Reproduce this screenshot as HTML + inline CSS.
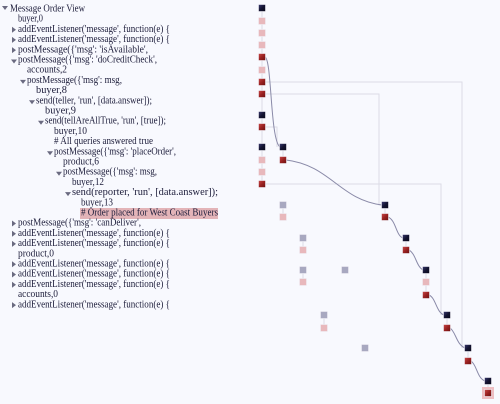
<!DOCTYPE html>
<html><head><meta charset="utf-8"><style>
html,body{margin:0;padding:0;background:#f8f9fe;}
svg{display:block}
text{font-family:"Liberation Serif",serif;font-size:11px;fill:#1c1c3a;}
</style></head><body>
<svg width="500" height="404" viewBox="0 0 500 404" xmlns="http://www.w3.org/2000/svg">
<defs>
<linearGradient id="gd" x1="0" y1="0" x2="1" y2="1"><stop offset="0" stop-color="#3a3a70"/><stop offset="0.5" stop-color="#141432"/><stop offset="1" stop-color="#080818"/></linearGradient>
<linearGradient id="gr" x1="0" y1="0" x2="1" y2="1"><stop offset="0" stop-color="#c84848"/><stop offset="0.5" stop-color="#9a2222"/><stop offset="1" stop-color="#6a1010"/></linearGradient>
</defs>
<rect x="80" y="208" width="138" height="11" fill="#e3b4b8"/>
<g>
<text x="10" y="11.5" textLength="75" lengthAdjust="spacingAndGlyphs">Message Order View</text>
<text x="18" y="21.7" textLength="25" lengthAdjust="spacingAndGlyphs">buyer,0</text>
<text x="18" y="31.9" textLength="152" lengthAdjust="spacingAndGlyphs">addEventListener('message', function(e) {</text>
<text x="18" y="42.1" textLength="152" lengthAdjust="spacingAndGlyphs">addEventListener('message', function(e) {</text>
<text x="18" y="52.3" textLength="130" lengthAdjust="spacingAndGlyphs">postMessage({'msg': 'isAvailable',</text>
<text x="18" y="62.5" textLength="139" lengthAdjust="spacingAndGlyphs">postMessage({'msg': 'doCreditCheck',</text>
<text x="27" y="72.7" textLength="40" lengthAdjust="spacingAndGlyphs">accounts,2</text>
<text x="27" y="82.9" textLength="95" lengthAdjust="spacingAndGlyphs">postMessage({'msg': msg,</text>
<text x="36" y="93.1" textLength="31" lengthAdjust="spacingAndGlyphs">buyer,8</text>
<text x="36" y="103.3" textLength="116" lengthAdjust="spacingAndGlyphs">send(teller, 'run', [data.answer]);</text>
<text x="45" y="113.5" textLength="31" lengthAdjust="spacingAndGlyphs">buyer,9</text>
<text x="45" y="123.7" textLength="121" lengthAdjust="spacingAndGlyphs">send(tellAreAllTrue, 'run', [true]);</text>
<text x="54" y="133.9" textLength="33" lengthAdjust="spacingAndGlyphs">buyer,10</text>
<text x="54" y="144.1" textLength="99" lengthAdjust="spacingAndGlyphs"># All queries answered true</text>
<text x="54" y="154.3" textLength="122" lengthAdjust="spacingAndGlyphs">postMessage({'msg': 'placeOrder',</text>
<text x="63" y="164.5" textLength="36" lengthAdjust="spacingAndGlyphs">product,6</text>
<text x="63" y="174.7" textLength="94" lengthAdjust="spacingAndGlyphs">postMessage({'msg': msg,</text>
<text x="72" y="184.9" textLength="32" lengthAdjust="spacingAndGlyphs">buyer,12</text>
<text x="72" y="195.1" textLength="146" lengthAdjust="spacingAndGlyphs">send(reporter, 'run', [data.answer]);</text>
<text x="81" y="205.3" textLength="32" lengthAdjust="spacingAndGlyphs">buyer,13</text>
<text x="81" y="215.5" textLength="137" lengthAdjust="spacingAndGlyphs"># Order placed for West Coast Buyers</text>
<text x="18" y="225.7" textLength="123" lengthAdjust="spacingAndGlyphs">postMessage({'msg': 'canDeliver',</text>
<text x="18" y="235.9" textLength="152" lengthAdjust="spacingAndGlyphs">addEventListener('message', function(e) {</text>
<text x="18" y="246.1" textLength="152" lengthAdjust="spacingAndGlyphs">addEventListener('message', function(e) {</text>
<text x="18" y="256.3" textLength="36" lengthAdjust="spacingAndGlyphs">product,0</text>
<text x="18" y="266.5" textLength="152" lengthAdjust="spacingAndGlyphs">addEventListener('message', function(e) {</text>
<text x="18" y="276.7" textLength="152" lengthAdjust="spacingAndGlyphs">addEventListener('message', function(e) {</text>
<text x="18" y="286.9" textLength="152" lengthAdjust="spacingAndGlyphs">addEventListener('message', function(e) {</text>
<text x="18" y="297.1" textLength="40" lengthAdjust="spacingAndGlyphs">accounts,0</text>
<text x="18" y="307.3" textLength="152" lengthAdjust="spacingAndGlyphs">addEventListener('message', function(e) {</text>
</g>
<g fill="#6a6a80">
<path d="M2,6 h6 l-3,4 z"/>
<path d="M11,59.5 h6 l-3,4 z"/>
<path d="M20,79.9 h6 l-3,4 z"/>
<path d="M29,100.3 h6 l-3,4 z"/>
<path d="M38,120.7 h6 l-3,4 z"/>
<path d="M47,151.3 h6 l-3,4 z"/>
<path d="M56,171.7 h6 l-3,4 z"/>
<path d="M65,192.1 h6 l-3,4 z"/>
<path d="M12,26.7 v6 l4,-3 z"/>
<path d="M12,36.9 v6 l4,-3 z"/>
<path d="M12,47.1 v6 l4,-3 z"/>
<path d="M12,220.5 v6 l4,-3 z"/>
<path d="M12,230.7 v6 l4,-3 z"/>
<path d="M12,240.9 v6 l4,-3 z"/>
<path d="M12,261.3 v6 l4,-3 z"/>
<path d="M12,271.5 v6 l4,-3 z"/>
<path d="M12,281.7 v6 l4,-3 z"/>
<path d="M12,302.1 v6 l4,-3 z"/>
</g>
<g fill="none" stroke="#dcdce6" stroke-width="1">
<path d="M262,8 V184"/>
<path d="M262,82 H462 V348"/>
<path d="M262,94 H379 V205 H385"/>
<path d="M262,127 H277 V147"/>
<path d="M262,184 H441 V315"/>
<path d="M283,147 V160"/>
<path d="M283,205 V217"/><path d="M385,205 V217"/>
<path d="M303,238 V250"/><path d="M406,238 V250"/>
<path d="M303,270 V282"/><path d="M426,270 V295"/>
<path d="M324,315 V328"/><path d="M447,315 V328"/>
<path d="M468,348 V361"/><path d="M488,381 V393"/>
</g>
<g fill="none" stroke="#8a8aa8" stroke-width="1">
<path d="M265,57 C272,60 270,140 280,147"/>
<path d="M286,160 C330,165 340,200 382,205"/>
<path d="M388,217 C396,220 396,236 403,238"/>
<path d="M409,250 C416,254 416,266 423,270"/>
<path d="M429,295 C436,298 436,312 444,315"/>
<path d="M450,328 C456,332 456,344 465,348"/>
<path d="M471,361 C477,365 477,378 485,381"/>
</g>
<rect x="482" y="387" width="12" height="12" fill="#eebfc3"/>
<g stroke="#f0eef6" stroke-width="0.6">
<rect x="258.5" y="4.5" width="7" height="7" fill="url(#gd)"/>
<rect x="258.5" y="17.5" width="7" height="7" fill="#e8b8bc"/>
<rect x="258.5" y="29.5" width="7" height="7" fill="#e8b8bc"/>
<rect x="258.5" y="41.5" width="7" height="7" fill="#e8b8bc"/>
<rect x="258.5" y="53.5" width="7" height="7" fill="url(#gr)"/>
<rect x="258.5" y="66.5" width="7" height="7" fill="#e8b8bc"/>
<rect x="258.5" y="78.5" width="7" height="7" fill="url(#gr)"/>
<rect x="258.5" y="90.5" width="7" height="7" fill="url(#gr)"/>
<rect x="258.5" y="111.5" width="7" height="7" fill="url(#gd)"/>
<rect x="258.5" y="123.5" width="7" height="7" fill="url(#gr)"/>
<rect x="258.5" y="143.5" width="7" height="7" fill="url(#gd)"/>
<rect x="258.5" y="156.5" width="7" height="7" fill="#e8b8bc"/>
<rect x="258.5" y="168.5" width="7" height="7" fill="#e8b8bc"/>
<rect x="258.5" y="180.5" width="7" height="7" fill="url(#gr)"/>
<rect x="279.5" y="143.5" width="7" height="7" fill="url(#gd)"/>
<rect x="279.5" y="156.5" width="7" height="7" fill="url(#gr)"/>
<rect x="279.5" y="201.5" width="7" height="7" fill="#a8a8c0"/>
<rect x="279.5" y="213.5" width="7" height="7" fill="#e8b8bc"/>
<rect x="299.5" y="234.5" width="7" height="7" fill="#a8a8c0"/>
<rect x="299.5" y="246.5" width="7" height="7" fill="#e8b8bc"/>
<rect x="299.5" y="266.5" width="7" height="7" fill="#a8a8c0"/>
<rect x="299.5" y="278.5" width="7" height="7" fill="#e8b8bc"/>
<rect x="341.5" y="266.5" width="7" height="7" fill="#a8a8c0"/>
<rect x="320.5" y="311.5" width="7" height="7" fill="#a8a8c0"/>
<rect x="320.5" y="324.5" width="7" height="7" fill="#e8b8bc"/>
<rect x="361.5" y="344.5" width="7" height="7" fill="#a8a8c0"/>
<rect x="381.5" y="201.5" width="7" height="7" fill="url(#gd)"/>
<rect x="381.5" y="213.5" width="7" height="7" fill="url(#gr)"/>
<rect x="402.5" y="234.5" width="7" height="7" fill="url(#gd)"/>
<rect x="402.5" y="246.5" width="7" height="7" fill="url(#gr)"/>
<rect x="422.5" y="266.5" width="7" height="7" fill="url(#gd)"/>
<rect x="422.5" y="278.5" width="7" height="7" fill="#e8b8bc"/>
<rect x="422.5" y="291.5" width="7" height="7" fill="url(#gr)"/>
<rect x="443.5" y="311.5" width="7" height="7" fill="url(#gd)"/>
<rect x="443.5" y="324.5" width="7" height="7" fill="url(#gr)"/>
<rect x="464.5" y="344.5" width="7" height="7" fill="url(#gd)"/>
<rect x="464.5" y="357.5" width="7" height="7" fill="url(#gr)"/>
<rect x="484.5" y="377.5" width="7" height="7" fill="url(#gd)"/>
<rect x="484.5" y="389.5" width="7" height="7" fill="url(#gr)"/>
</g>
</svg>
</body></html>
